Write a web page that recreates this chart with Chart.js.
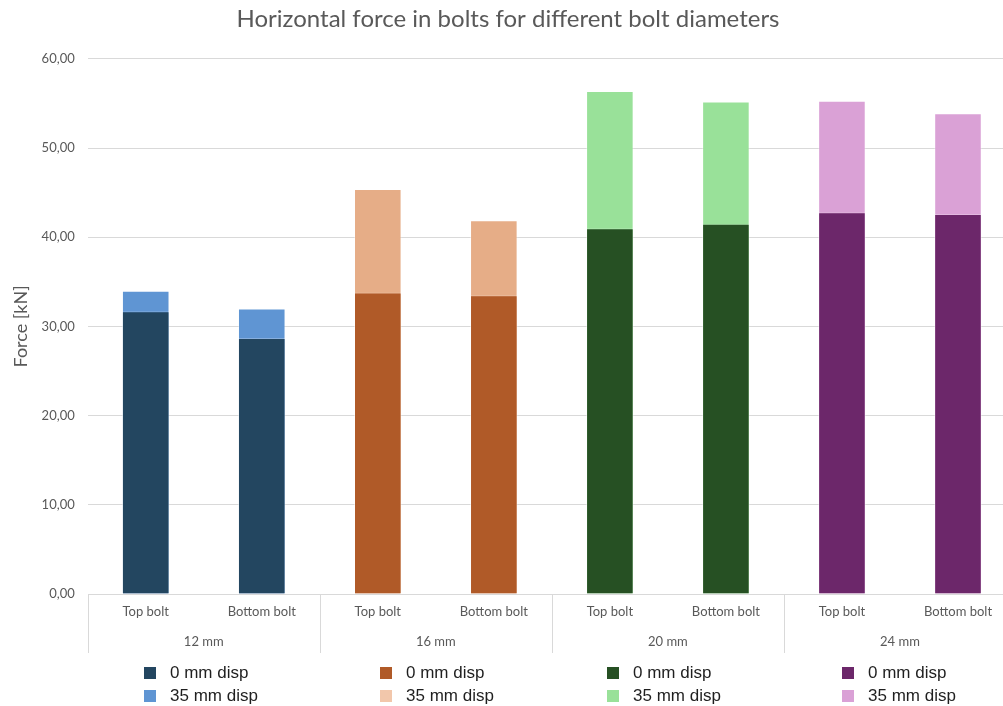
<!DOCTYPE html>
<html>
<head>
<meta charset="utf-8">
<script src="https://cdn.jsdelivr.net/npm/chart.js@4"></script>
<style>
    html, body { margin: 0; padding: 0; background: #fff; overflow: hidden; }
    #wrap { position: relative; width: 1016px; height: 706px; }
</style>
</head>
<body>
<div id="wrap"><canvas id="bolt-chart"></canvas></div>
<script>
const bolts = [
    "Top bolt", "Bottom bolt", "Top bolt", "Bottom bolt",
    "Top bolt", "Bottom bolt", "Top bolt", "Bottom bolt",
];
const diameters = ["12 mm", "16 mm", "20 mm", "24 mm"];

// force in kN at 0 mm and 35 mm displacement
const disp0 = [31.7, 28.7, 33.8, 33.5, 41.0, 41.5, 42.8, 42.6];
const disp35 = [34.0, 32.0, 45.4, 41.9, 56.4, 55.2, 55.3, 53.9];

const yTicks = [0, 10, 20, 30, 40, 50, 60];

const darkColors = ["#234660", "#b05a28", "#265023", "#6c276a"];
const lightColors = ["#5f95d3", "#e6ad87", "#99e199", "#daa1d6"];
const legendLight = ["#5f95d3", "#f2c7ab", "#99e199", "#daa1d6"];

const grey = "#595959";
const lineGrey = "#d9d9d9";
const chartFont = "Lato";

// second row of the category axis + separators
const groupAxis = {
    id: "groupAxis",
    afterDraw(chart) {
        const { ctx, chartArea, scales } = chart;
        const x = scales.x;
        const step = x.getPixelForValue(1) - x.getPixelForValue(0);
        ctx.save();
        ctx.font = "13px " + chartFont;
        ctx.fillStyle = grey;
        ctx.textAlign = "center";
        ctx.textBaseline = "middle";
        bolts.forEach((b, i) => {
            ctx.fillText(b, x.getPixelForValue(i), chartArea.bottom + 18);
        });
        ctx.strokeStyle = lineGrey;
        ctx.lineWidth = 1;
        diameters.forEach((d, g) => {
            const left = x.getPixelForValue(g * 2) - step / 2;
            const right = left + step * 2;
            ctx.beginPath();
            ctx.moveTo(Math.round(left) + 0.5, chartArea.bottom);
            ctx.lineTo(Math.round(left) + 0.5, chartArea.bottom + 59);
            ctx.stroke();
            ctx.fillText(d, (left + right) / 2, chartArea.bottom + 48);
        });
        ctx.restore();
    },
};

// legend laid out in four columns, one per diameter
const legendCols = [144, 380, 607, 842];
const legendRows = [673, 696];
const boltLegend = {
    id: "boltLegend",
    afterDraw(chart) {
        const ctx = chart.ctx;
        ctx.save();
        ctx.font = "17px 'Liberation Sans'";
        ctx.textBaseline = "middle";
        legendCols.forEach((cx, g) => {
            [darkColors[g], legendLight[g]].forEach((c, r) => {
                const cy = legendRows[r];
                ctx.fillStyle = c;
                ctx.fillRect(cx, cy - 6, 12, 12);
                ctx.fillStyle = "#1f1f1f";
                ctx.fillText(r === 0 ? "0 mm disp" : "35 mm disp", cx + 26, cy);
            });
        });
        ctx.restore();
    },
};

const perBar = (colors) => bolts.map((b, i) => colors[Math.floor(i / 2)]);

new Chart(document.getElementById("bolt-chart"), {
    type: "bar",
    data: {
        labels: bolts,
        datasets: [
            {
                label: "0 mm disp",
                data: disp0,
                backgroundColor: perBar(darkColors),
                borderColor: "rgba(255,255,255,0.25)",
                borderWidth: 1,
                order: 1,
            },
            {
                label: "35 mm disp",
                data: disp35,
                backgroundColor: perBar(lightColors),
                borderColor: "rgba(255,255,255,0.35)",
                borderWidth: 1,
                order: 2,
            },
        ],
    },
    options: {
        responsive: true,
        maintainAspectRatio: false,
        animation: false,
        datasets: {
            bar: {
                barPercentage: 0.41,
                categoryPercentage: 1,
            },
        },
        layout: {
            padding: { left: 0, right: 0, top: 0, bottom: 104 },
        },
        scales: {
            x: {
                stacked: true,
                grid: { display: false },
                border: { display: false },
                ticks: { display: false },
            },
            y: {
                min: 0,
                max: 60,
                afterBuildTicks(axis) {
                    axis.ticks = yTicks.map((v) => ({ value: v }));
                },
                ticks: {
                    color: grey,
                    padding: 13,
                    font: { family: chartFont, size: 13 },
                    callback: (v) => v.toFixed(2).replace(".", ","),
                },
                grid: { color: lineGrey, drawTicks: false },
                border: { display: false },
                title: {
                    display: true,
                    text: "Force [kN]",
                    color: grey,
                    font: { family: chartFont, size: 18 },
                    padding: { top: 10, bottom: -3 },
                },
            },
        },
        plugins: {
            legend: { display: false },
            tooltip: { enabled: false },
            title: {
                display: true,
                text: "Horizontal force in bolts for different bolt diameters",
                color: grey,
                font: { family: chartFont, size: 24, weight: "normal" },
                padding: { top: 5, bottom: 25 },
            },
        },
    },
    plugins: [groupAxis, boltLegend],
});
</script>
</body>
</html>
